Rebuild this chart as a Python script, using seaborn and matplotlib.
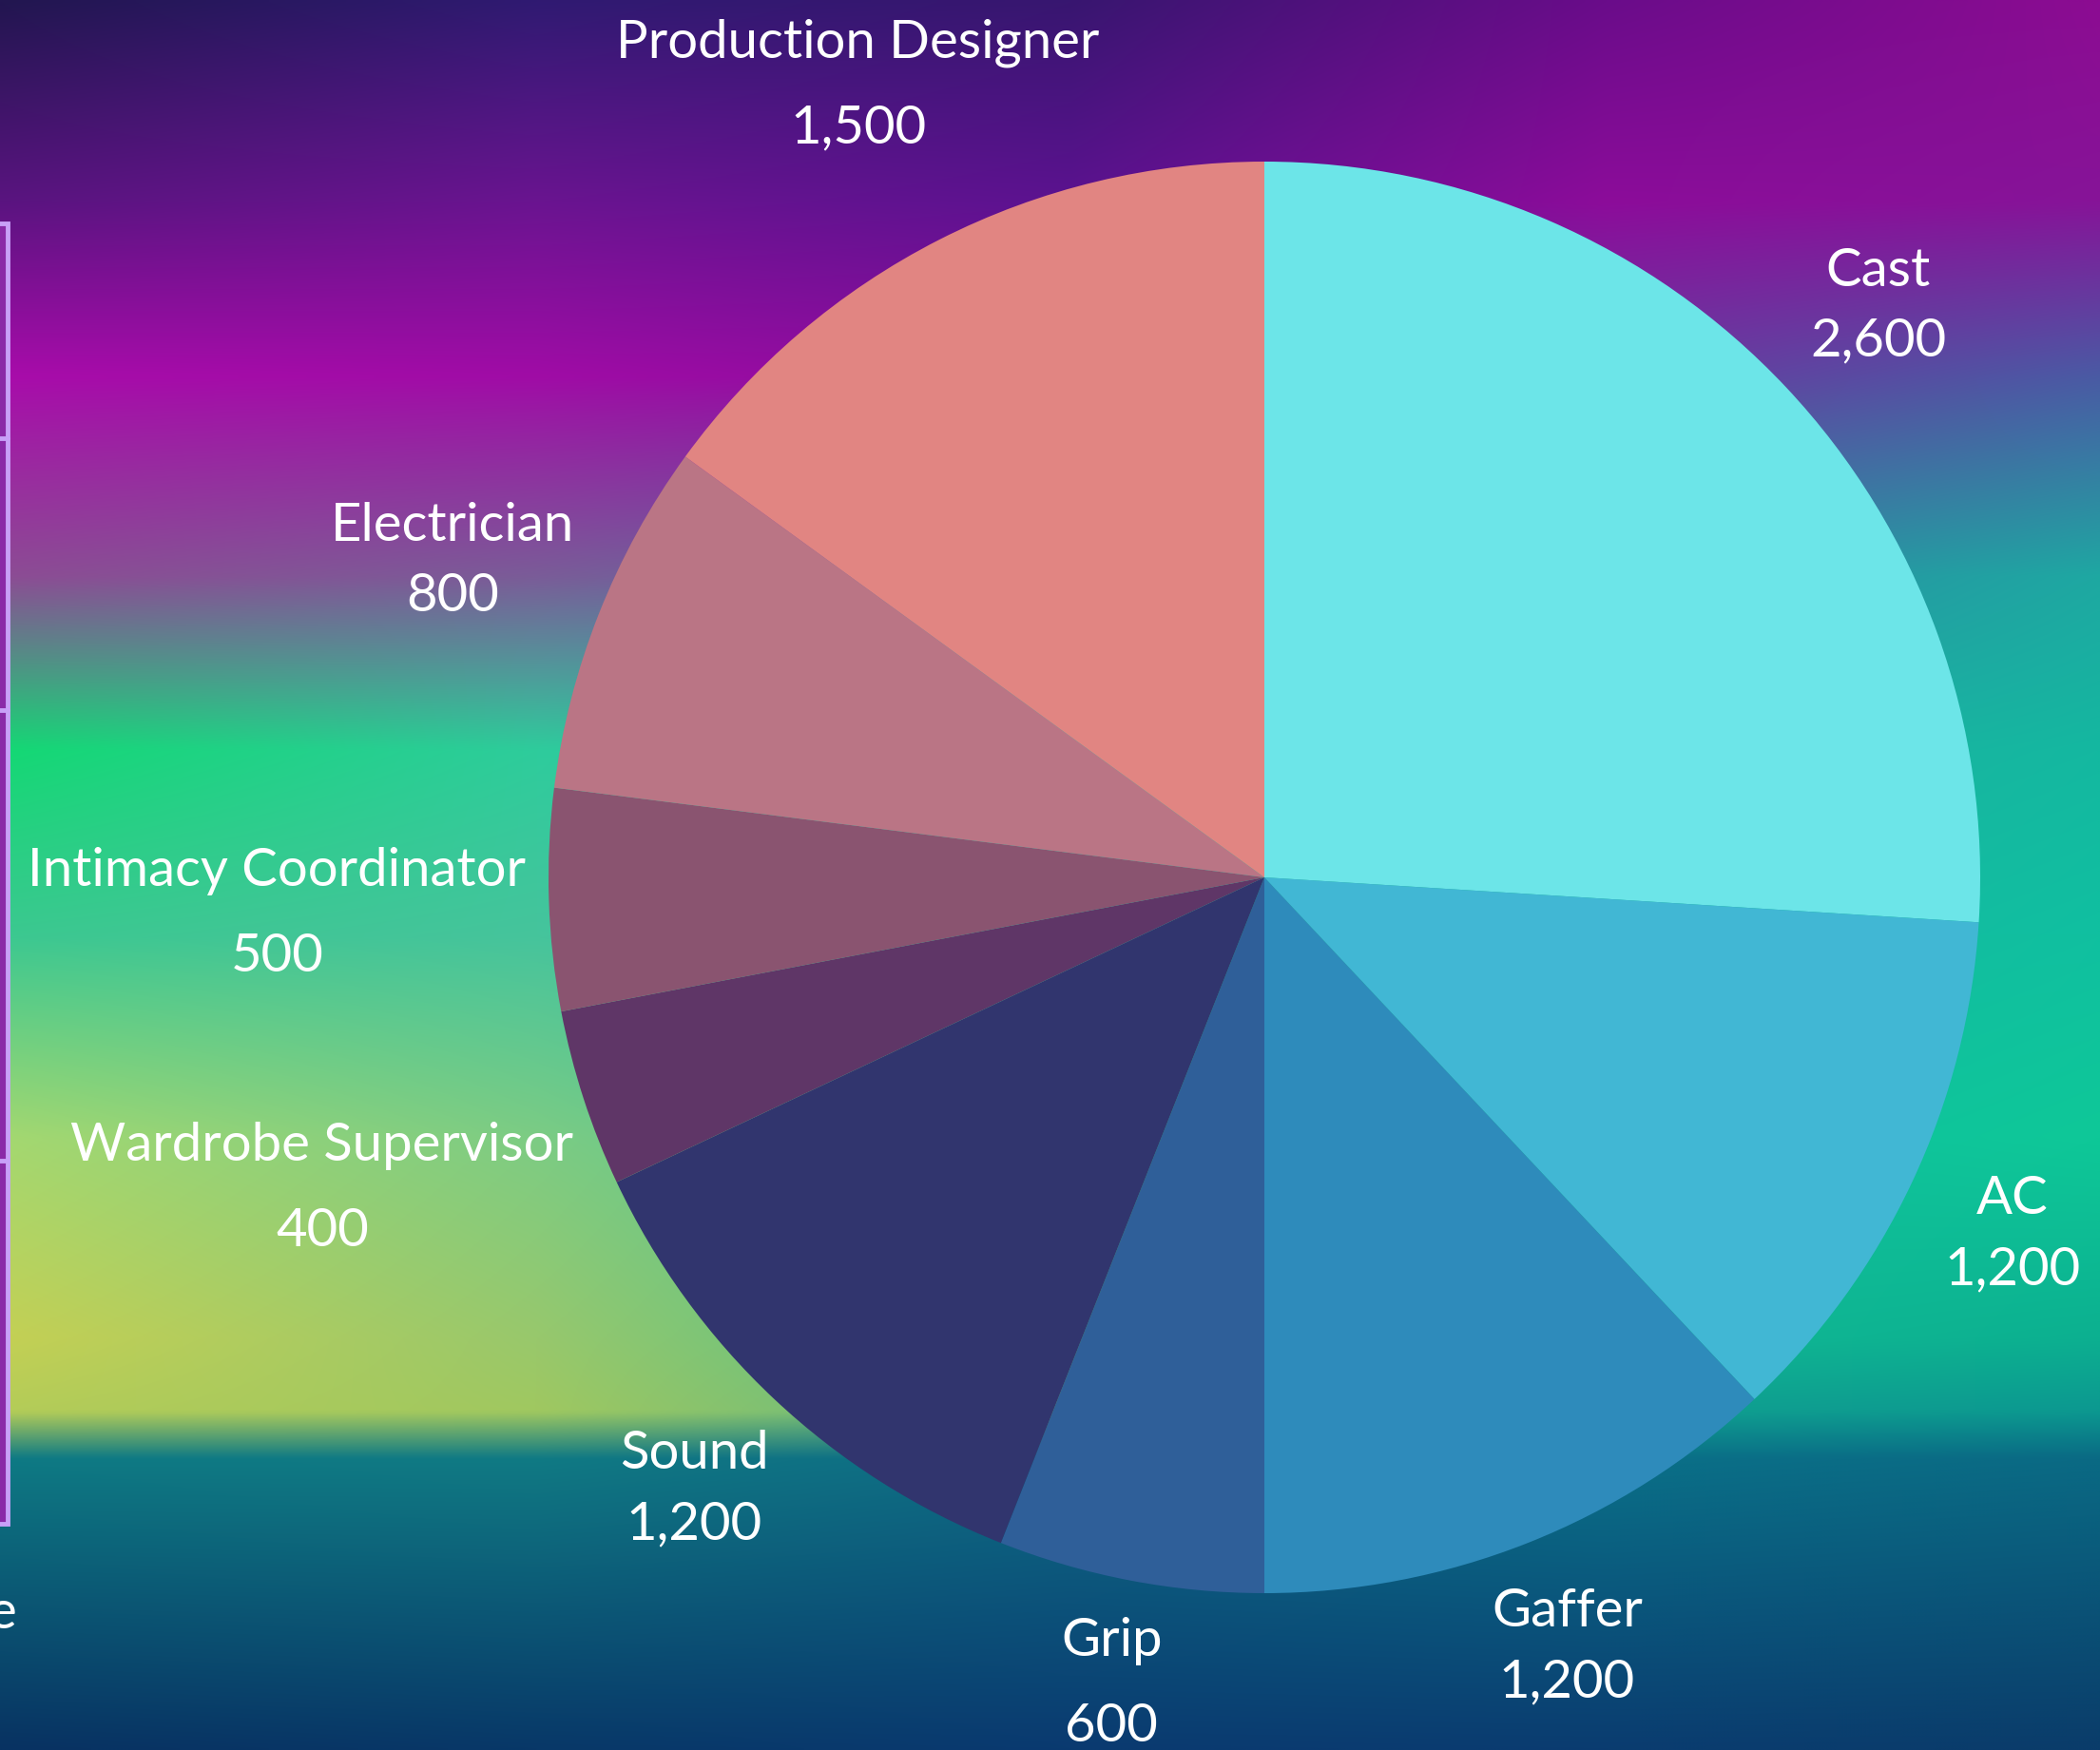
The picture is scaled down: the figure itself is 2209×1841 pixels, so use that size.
import numpy as np
import matplotlib.pyplot as plt
import matplotlib.colors as mcolors
from matplotlib.patches import Rectangle
import seaborn as sns

"""Plot setup"""
sns.set_style("white")
plt.rcParams.update({
    "font.family": ["Lato", "DejaVu Sans"],
    "text.color": "white",
})

# Data
roles = ["Cast", "AC", "Gaffer", "Grip", "Sound", "Wardrobe Supervisor",
         "Intimacy Coordinator", "Electrician", "Production Designer"]
headcount = [2600, 1200, 1200, 600, 1200, 400, 500, 800, 1500]
slice_colors = ["#6ce5e8", "#41b7d4", "#2e8bbb", "#2f5f99", "#31356e",
                "#5f3667", "#8a5470", "#ba7585", "#e18582"]

# label placement (style): distance from centre in radii, gap between lines in px
label_dist = [1.176, 1.155, 1.149, 1.14, 1.163, 1.384, 1.38, 1.22, 1.25]
line_gap = [74, 74, 74, 90, 74, 90, 90, 74, 90]

# aurora backdrop control colours (rows top->bottom, cols left->right)
bg_rows = np.array([0, 150, 280, 430, 560, 700, 850, 1000, 1055, 1090, 1307]) / 1307
bg_cols = np.array([0, 400, 800, 1200, 1568]) / 1568
bg_grid = [
    ["#221650", "#301a72", "#381670", "#6a0c8a", "#8c0c92"],
    ["#5a1480", "#6a1490", "#5c1290", "#8c0c9a", "#861498"],
    ["#a80caa", "#a00ca6", "#8a0c9c", "#6a3aa0", "#4a5aa4"],
    ["#8c4c94", "#7a5c98", "#5a6aa0", "#2e8aa4", "#1ea8a2"],
    ["#14d874", "#2ecc9c", "#30b8a8", "#20b0a2", "#14b8a0"],
    ["#3cc890", "#46c49c", "#30c0a0", "#18b8a0", "#10c0a0"],
    ["#a4d870", "#7ccc84", "#40c098", "#10c0a0", "#0ec898"],
    ["#c4d054", "#98c86c", "#48c08c", "#10b894", "#0cb090"],
    ["#b4cc58", "#a0c860", "#58b888", "#10a090", "#0c9890"],
    ["#0e7a84", "#107a84", "#0e6a84", "#0a7088", "#0a6a84"],
    ["#083262", "#083868", "#0a3a70", "#0a3c70", "#0a3c6a"],
]

W, H = 2209, 1841
fig = plt.figure(figsize=(W / 100, H / 100), dpi=100)
ax = fig.add_axes([0, 0, 1, 1])

# backdrop image
grid = np.array([[mcolors.to_rgb(c) for c in row] for row in bg_grid])
ys = np.linspace(0, 1, H // 4)
xs = np.linspace(0, 1, W // 4)
tmp = np.stack([[np.interp(ys, bg_rows, grid[:, j, k]) for k in range(3)]
                for j in range(len(bg_cols))])  # cols, 3, H
img = np.zeros((len(ys), len(xs), 3))
for k in range(3):
    for i in range(len(ys)):
        img[i, :, k] = np.interp(xs, bg_cols, tmp[:, k, i])
ax.imshow(img, extent=[0, W, 0, H], origin="upper", aspect="auto",
          interpolation="bilinear", zorder=0)

# pie
cx, cy, rad = 1330, 918, 753
wedges, _ = ax.pie(headcount, colors=slice_colors, startangle=90,
                   counterclock=False, center=(cx, cy), radius=rad,
                   wedgeprops=dict(linewidth=0), frame=True)
for w in wedges:
    w.set_zorder(2)

for w, name, val, d, gap in zip(wedges, roles, headcount, label_dist, line_gap):
    ang = np.deg2rad((w.theta1 + w.theta2) / 2)
    tx = cx + rad * d * np.cos(ang)
    ty = cy + rad * d * np.sin(ang)
    ax.text(tx, ty + gap / 2 - 21, name, ha="center", va="baseline",
            fontsize=40.5, color="white", zorder=3)
    ax.text(tx, ty - gap / 2 - 21, f"{val:,}", ha="center", va="baseline",
            fontsize=40.5, color="white", zorder=3)

# cut-off side panel on the left edge
ax.add_patch(Rectangle((-30, 238), 38, 1368, facecolor="#8a2aa8",
                       edgecolor="#c8a0f8", linewidth=3.5, zorder=2))
for yy in [461, 747, 1221]:
    ax.plot([-5, 8], [H - yy, H - yy], color="#c8a0f8", lw=3.5, zorder=3)
ax.text(17, H - 1713, "e", ha="right", va="baseline", fontsize=40.5,
        color="white", zorder=3)

ax.set_xlim(0, W)
ax.set_ylim(0, H)
ax.set_aspect("auto")
ax.axis("off")

fig.savefig("out.png", dpi=100)
